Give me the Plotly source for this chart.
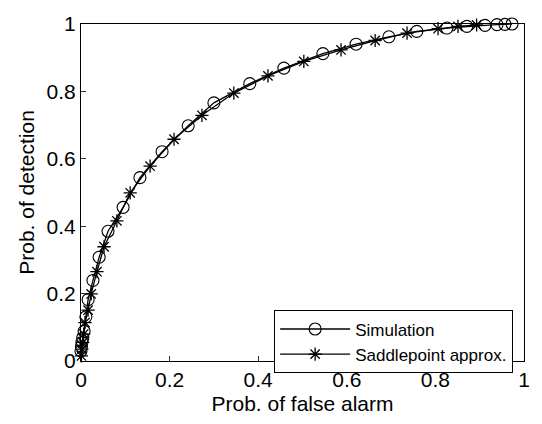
import plotly.graph_objects as go

# Simulation (circles)
sim_pfa = [0.0, 0.001, 0.002, 0.004, 0.007, 0.011, 0.016, 0.027, 0.041, 0.061, 0.095,
           0.133, 0.183, 0.242, 0.300, 0.381, 0.458, 0.546, 0.621, 0.695, 0.758, 0.826,
           0.871, 0.912, 0.939, 0.957, 0.973]
sim_pd = [0.030, 0.043, 0.055, 0.068, 0.088, 0.131, 0.182, 0.239, 0.308, 0.385, 0.456,
          0.544, 0.621, 0.698, 0.766, 0.823, 0.869, 0.912, 0.940, 0.962, 0.978, 0.988,
          0.993, 0.996, 0.998, 0.999, 1.0]

# Saddlepoint approximation (stars)
sp_pfa = [0.001, 0.002, 0.004, 0.006, 0.009, 0.016, 0.023, 0.036, 0.052, 0.081, 0.111,
          0.156, 0.210, 0.273, 0.345, 0.422, 0.503, 0.587, 0.664, 0.736, 0.806, 0.851,
          0.893]
sp_pd = [0.015, 0.035, 0.055, 0.080, 0.114, 0.151, 0.199, 0.265, 0.339, 0.416, 0.499,
         0.578, 0.658, 0.729, 0.795, 0.846, 0.889, 0.923, 0.951, 0.973, 0.986, 0.993,
         0.997]

tick_vals = [0, 0.2, 0.4, 0.6, 0.8, 1]
tick_text = ["0", "0.2", "0.4", "0.6", "0.8", "1"]

FONT = "Liberation Sans, Arial, sans-serif"

fig = go.Figure()
fig.add_trace(go.Scatter(
    x=sim_pfa, y=sim_pd, mode="lines+markers", name="Simulation",
    line=dict(color="black", width=1.3),
    marker=dict(symbol="circle-open", size=12, color="black", line=dict(width=1.1)),
    cliponaxis=False,
))
fig.add_trace(go.Scatter(
    x=sp_pfa, y=sp_pd, mode="lines+markers", name="Saddlepoint approx.",
    line=dict(color="black", width=1.3),
    marker=dict(symbol="asterisk-open", size=11, color="black", line=dict(width=1.3)),
    cliponaxis=False,
))

axis_common = dict(
    range=[0, 1], tickvals=tick_vals, ticktext=tick_text,
    ticks="inside", ticklen=5, tickcolor="#333", tickwidth=1,
    showline=True, linecolor="black", linewidth=1, mirror=True,
    showgrid=False, zeroline=False,
    tickfont=dict(family=FONT, size=21, color="black"),
)

fig.update_layout(
    width=542, height=424,
    margin=dict(l=81, r=18, t=12, b=61),
    paper_bgcolor="white", plot_bgcolor="white",
    font=dict(family=FONT, color="black"),
    xaxis=dict(axis_common, title=dict(text="Prob. of false alarm",
                                       font=dict(family=FONT, size=21), standoff=6)),
    yaxis=dict(axis_common, title=dict(text="Prob. of detection",
                                       font=dict(family=FONT, size=21), standoff=6)),
    showlegend=True,
    legend=dict(x=0.436, y=0.15, xanchor="left", yanchor="top",
                bgcolor="white", bordercolor="black", borderwidth=1,
                font=dict(family=FONT, size=17, color="black"),
                tracegroupgap=0, itemwidth=70),
)

fig.write_html("out.html")
